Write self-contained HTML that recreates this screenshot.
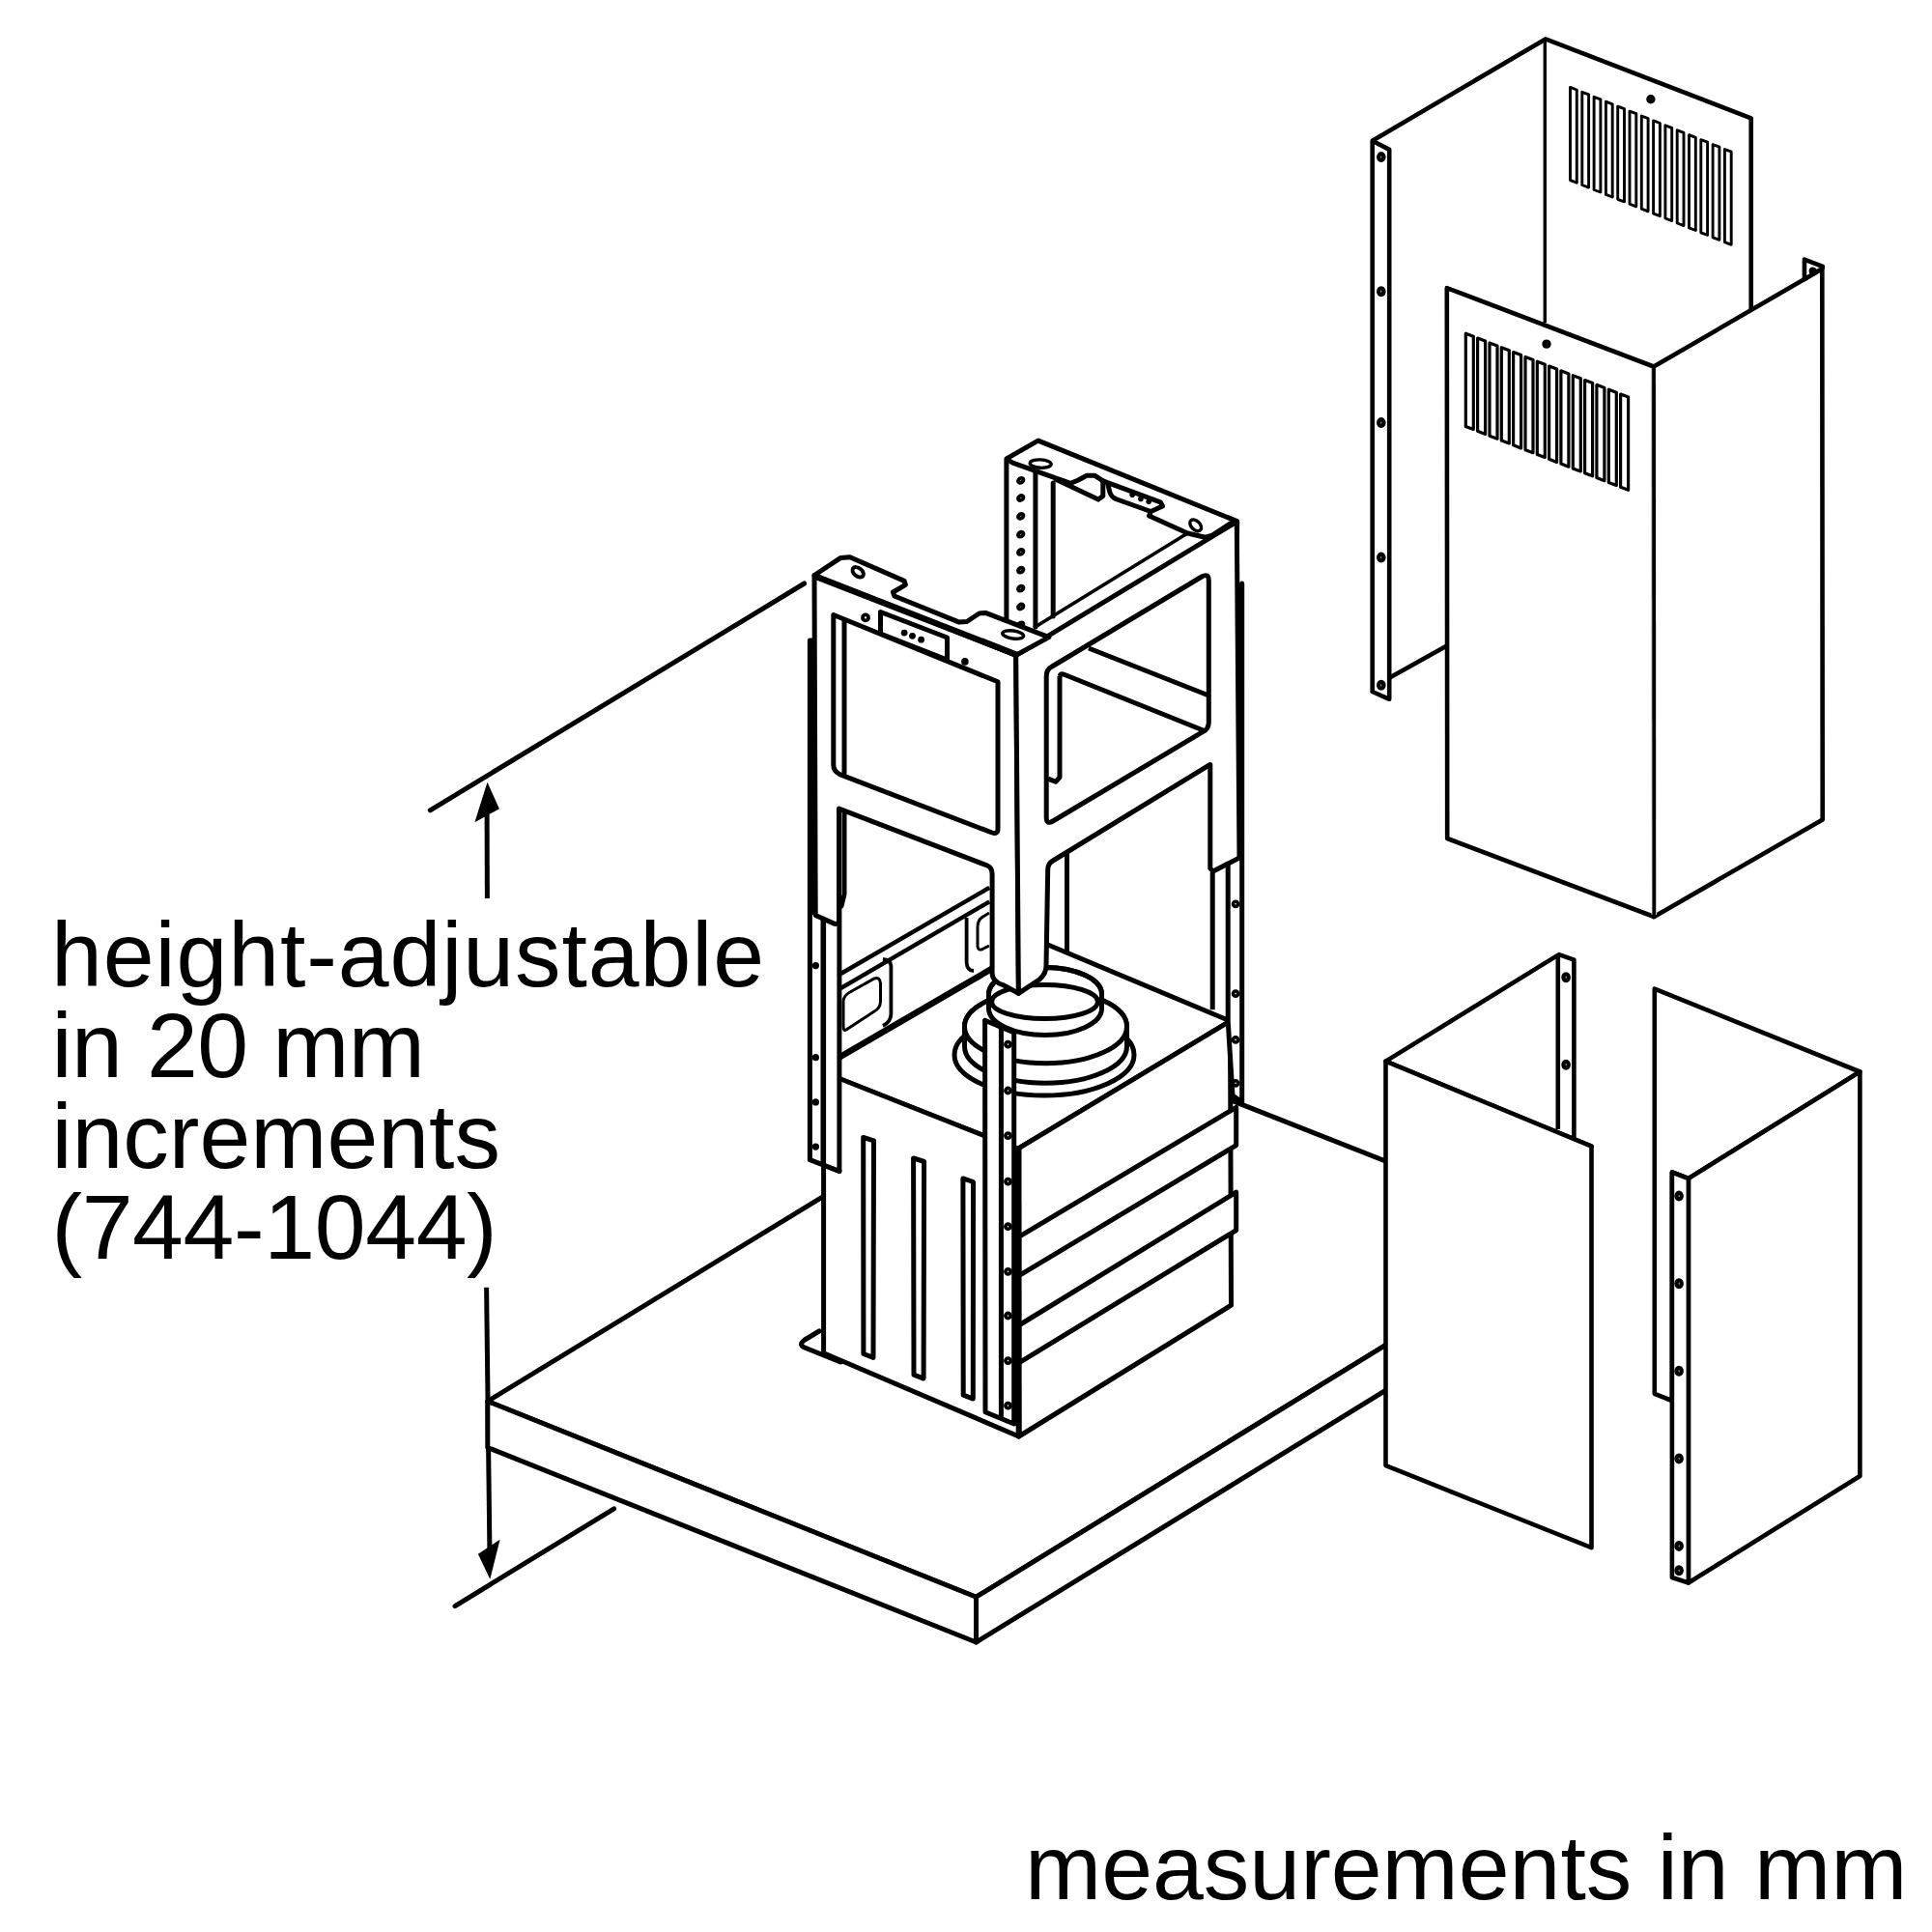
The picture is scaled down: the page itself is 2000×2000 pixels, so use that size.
<!DOCTYPE html>
<html><head><meta charset="utf-8"><style>
html,body{margin:0;padding:0;background:#fff;}
body{width:2000px;height:2000px;overflow:hidden;position:relative;}
svg{position:absolute;left:0;top:0;}
</style></head><body>
<svg width="2000" height="2000" viewBox="0 0 2000 2000">
<g font-family="Liberation Sans, sans-serif" font-size="95" fill="#000">
<text x="53" y="1021" letter-spacing="0.9">height-adjustable</text>
<text x="53.4" y="1115" letter-spacing="-0.6">in 20 mm</text>
<text x="53.4" y="1209">increments</text>
<text x="53.4" y="1303" letter-spacing="-0.38">(744-1044)</text>
<text x="1061" y="1966">measurements in mm</text>
</g>
<g fill="none" stroke="#000" stroke-width="5" stroke-linecap="round" stroke-linejoin="round">
<!-- dimension -->
<line x1="445.3" y1="838.8" x2="832.6" y2="604"/>
<line x1="504.1" y1="843" x2="504.4" y2="930" stroke-linecap="butt"/>
<line x1="503.6" y1="1332.8" x2="507" y2="1612" stroke-linecap="butt"/>
<line x1="471" y1="1662.6" x2="635.6" y2="1561.8"/>
</g>
<g fill="#000" stroke="none">
<polygon points="504.5,809.8 491.4,851.2 516.9,837.3"/>
<polygon points="507.3,1634.7 494.9,1608.8 517.6,1593.7"/>
</g>
<!-- PLATE -->
<g id="plate" fill="#fff" stroke="#000" stroke-width="5" stroke-linejoin="round">
<polygon points="504.8,1450.6 1117,1077 1623,1276.4 1010.5,1653.2"/>
<polygon points="504.8,1450.6 1010.5,1653.2 1010.5,1700 504.8,1498.5"/>
<polygon points="1010.5,1653.2 1623,1276.4 1623,1323.4 1010.5,1700"/>
</g>
<!-- BACK FRAME (behind box) -->
<g fill="none" stroke="#000" stroke-width="5" stroke-linejoin="round" stroke-linecap="round">
<polyline points="1041.9,650 1041.9,474.9 1074.7,456.1 1280.7,539.6 1279.9,600"/>
<line x1="1071.9" y1="487" x2="1071.9" y2="649"/>
<line x1="1090.2" y1="500" x2="1090.2" y2="638"/>
<polyline points="1042.5,475.5 1048.4,479.2 1108.3,500.3 1115.7,497.2 1125,492.2 1133.1,492.2 1141.8,497.8 1201.2,519.8 1203.5,524 1191.3,529.5 1189.6,534 1229.4,552 1247.6,556.2 1254.2,554.5 1274.1,541.7"/>
<polyline points="1141.8,497.8 1141.8,513.4 1136.9,517.1 1109.5,504 1093.4,496.6"/>
<path d="M1146.8,501 L1148.7,509 Q1150,514 1155,516.5 L1191.3,529.5"/>
</g>
<g fill="#000">
<circle cx="1172.2" cy="512.3" r="2.8"/><circle cx="1180.9" cy="516.4" r="2.8"/><circle cx="1189.2" cy="519.3" r="2.8"/>
</g>
<g fill="none" stroke="#000" stroke-width="3.4">
<ellipse cx="1237.7" cy="543.8" rx="7" ry="4.5" transform="rotate(45 1237.7 543.8)"/>
<ellipse cx="1077.2" cy="480.1" rx="11" ry="4.2" transform="rotate(3 1077.2 480.1)"/>
</g>
<g fill="#000">
<ellipse cx="1056.7" cy="497.3" rx="3" ry="2.2" fill="none" stroke="#000" stroke-width="3.8" transform="rotate(-35 1056.7 497.3)"/>
<ellipse cx="1056.7" cy="515.5" rx="3" ry="2.2" fill="none" stroke="#000" stroke-width="3.8" transform="rotate(-35 1056.7 515.5)"/>
<ellipse cx="1056.7" cy="534.3" rx="3" ry="2.2" fill="none" stroke="#000" stroke-width="3.8" transform="rotate(-35 1056.7 534.3)"/>
<ellipse cx="1056.7" cy="553.2" rx="3" ry="2.2" fill="none" stroke="#000" stroke-width="3.8" transform="rotate(-35 1056.7 553.2)"/>
<ellipse cx="1056.7" cy="571.4" rx="3" ry="2.2" fill="none" stroke="#000" stroke-width="3.8" transform="rotate(-35 1056.7 571.4)"/>
<ellipse cx="1056.7" cy="590.2" rx="3" ry="2.2" fill="none" stroke="#000" stroke-width="3.8" transform="rotate(-35 1056.7 590.2)"/>
<ellipse cx="1056.7" cy="609.1" rx="3" ry="2.2" fill="none" stroke="#000" stroke-width="3.8" transform="rotate(-35 1056.7 609.1)"/>
<ellipse cx="1056.7" cy="628" rx="3" ry="2.2" fill="none" stroke="#000" stroke-width="3.8" transform="rotate(-35 1056.7 628)"/>
<ellipse cx="1056.7" cy="646.8" rx="3" ry="2.2" fill="none" stroke="#000" stroke-width="3.8" transform="rotate(-35 1056.7 646.8)"/>
</g>
<!-- right flange inner line A -->
<line x1="1070.4" y1="649.8" x2="1229.4" y2="552" stroke="#000" stroke-width="3.6"/>
<!-- back crossbar seen through right upper window -->
<g fill="none" stroke="#000" stroke-width="5" stroke-linejoin="round">
<line x1="1127" y1="671" x2="1251.3" y2="720"/>
<path d="M1097,700 Q1098,697 1101,698 L1245.4,756"/>
<polyline points="1097,700 1097,804.6 1092.8,809.3 1085,806.1"/>
<line x1="1104.5" y1="880" x2="1104.5" y2="985.3"/>
</g>
<!-- back-left wall rim seen through left lower window -->
<g fill="none" stroke="#000" stroke-width="5" stroke-linejoin="round">
<line x1="870.4" y1="1008" x2="1024.3" y2="918.8" stroke-width="4.4"/>
<line x1="870.4" y1="1023" x2="1024.3" y2="933.4" stroke-width="4.4"/>
<path stroke-width="3.8" d="M914,993 Q922.4,994 922.4,1000 L922.4,1050 Q922,1058 914,1062"/>
<path stroke-width="3.8" d="M1000.6,950 L1000.6,996 Q1001,1005 1008,1005"/>
</g>
<g fill="none" stroke="#000" stroke-width="3">
<path d="M873,1036 Q874,1030 880,1027 L905,1013 Q911,1011 911.5,1018 L911.5,1037 Q911,1044 905,1047 L876,1066 Q873,1068 873,1062 Z"/>
<path d="M1024,945 L1016,950 Q1012,953 1012,960 L1012,980 Q1013,985 1018,982 L1024,979"/>
</g>
<!-- BOX -->
<g fill="#fff" stroke="#000" stroke-width="5" stroke-linejoin="round" stroke-linecap="round">
<polygon points="852.6,1104 1075.8,974.3 1273.5,1057 1053.5,1189.4 852.6,1110.7"/>
<polygon points="852.6,1110 1053.5,1189.4 1054.7,1487 852.6,1400.7"/>
<polygon points="1053.5,1189.4 1273.5,1057 1274.5,1351.2 1054.7,1487"/>
</g>
<g fill="none" stroke="#000" stroke-width="5" stroke-linejoin="round" stroke-linecap="round">
<path d="M848,1378 L833,1387 Q826,1392 833,1395 L870,1410"/>
<line x1="852.6" y1="1104" x2="1075.8" y2="974.3" stroke-width="6.5"/>
</g>
<g fill="#fff" stroke="#000" stroke-width="5" stroke-linejoin="round">
<polygon points="893.7,1177.4 904.5,1180.8 904,1405.4 893.9,1401.5"/>
<polygon points="945.6,1198.9 956.6,1202.5 956.1,1427.1 946,1423.2"/>
<polygon points="996.9,1219.9 1007.5,1223.5 1007.3,1448.1 997.2,1444.2"/>
<polygon points="1054.7,1280.4 1279.7,1146.3 1279.7,1185.6 1054.7,1320.7"/>
<polygon points="1054.7,1372 1279.7,1234.2 1279.7,1273.6 1054.7,1410.8"/>
</g>
<!-- DUCT -->
<g fill="#fff" stroke="#000" stroke-width="5">
<ellipse cx="1081" cy="1092" rx="93" ry="42"/>
<path d="M998.5,1062.7 A84 38 0 0 1 1166.5,1062.7 L1166.5,1083.2 A84 38 0 0 1 998.5,1083.2 Z"/>
<ellipse cx="1082.5" cy="1062.7" rx="84" ry="38"/>
<path d="M1023.5,1029 A58.5 27.5 0 0 1 1140.5,1029 L1140.5,1044 A58.5 27.5 0 0 1 1023.5,1044 Z"/>
<path fill="none" d="M1023.5,1029 A58.5 27.5 0 0 1 1140.5,1029"/>
<ellipse cx="1081.5" cy="1037" rx="55" ry="17.6"/>
</g>
<!-- LEFT RAIL (behind frame left leg) -->
<g fill="#fff" stroke="#000" stroke-width="5" stroke-linejoin="round">
<polygon points="838.4,663 852,663 852,1206 868.9,1212.4 838.4,1200.7"/>
<polygon points="852.6,940 868.9,934 868.9,1212.4 852.6,1206"/>
</g>
<g fill="#000">
<circle cx="844.4" cy="999.6" r="3.6"/><circle cx="844.4" cy="1094.7" r="3.6"/>
<circle cx="844.4" cy="1140.9" r="3.6"/><circle cx="844.4" cy="1187.1" r="3.6"/>
</g>
<!-- RIGHT RAIL -->
<g fill="#fff" stroke="#000" stroke-width="5" stroke-linejoin="round">
<polygon points="1271.2,896 1285.7,604 1285.7,1141 1276,1134 1271.2,1056.8"/>
</g>
<line x1="1255.2" y1="903" x2="1255.2" y2="1045.2" stroke="#000" stroke-width="5"/>
<g fill="none" stroke="#000" stroke-width="3.6">
<circle cx="1279.1" cy="935.8" r="2.6"/><circle cx="1279.1" cy="1028.6" r="2.6"/>
<circle cx="1279.1" cy="1076.4" r="2.6"/><circle cx="1279.1" cy="1121.3" r="2.6"/>
</g>
<line x1="841" y1="663" x2="841" y2="947" stroke="#000" stroke-width="8"/>
<line x1="1283.2" y1="604" x2="1283.2" y2="890" stroke="#000" stroke-width="8.5"/>
<!-- FRONT L FRAME -->
<g fill="#fff" stroke="#000" stroke-width="5" stroke-linejoin="round" fill-rule="evenodd">
<path d="M843,595.5 L1051.7,678.3 L1054.4,1028.3 L1038,1019.5 Q1027.5,1016 1027.1,1008 L1027.1,905 Q1027,898 1022,896 L868.5,837.1 L868.5,953 Q868,957 864,956.4 L844.2,947.5 Z
M862.8,636.5 L1033,705.8 L1033,858 Q1033,864 1027,862 L869.3,801.7 Q862.8,798 862.8,792 Z"/>
<path d="M1051.7,678.3 L1280.3,540.1 L1283,888 L1255.8,902 L1252.8,899 L1252.8,791.4 L1090,891 Q1084.7,894 1084.7,900 L1083,1000 Q1083,1008 1076,1014 L1054.4,1028.3 Z
M1083.2,700 Q1083.2,693 1089,690 L1244,597 Q1251.3,593 1251.3,601 L1251.3,748 Q1251,755 1245.4,757.4 L1090,850 Q1083.2,854 1083.2,846 Z"/>
<polygon points="843,595.5 870.4,577.4 879.9,576.7 936.1,601.4 937.4,605.3 924.5,613 925.8,617 993,644.1 1000.8,643.5 1013.7,635 1020.2,634.4 1085.9,659.6 1051.7,678.3"/>
<polygon points="911.5,633.5 980.5,660 980.5,683 911.5,656"/>
</g>
<g fill="none" stroke="#000" stroke-width="5" stroke-linecap="round">
<line x1="874" y1="643" x2="874" y2="800"/>
<line x1="845" y1="597" x2="1051.7" y2="677.5" stroke-width="6.5"/>
<polyline points="874,840 874,926 871,938"/>

</g>
<g fill="#000">
<circle cx="936.1" cy="655.1" r="3.4"/><circle cx="944.5" cy="658.3" r="3.4"/><circle cx="953.6" cy="662.2" r="3.4"/>
<circle cx="998.9" cy="684.9" r="3.8"/>
</g>
<g fill="none" stroke="#000" stroke-width="3.4">
<ellipse cx="888.2" cy="592.3" rx="6.5" ry="4.2" stroke-width="4" transform="rotate(38 888.2 592.3)"/>
<circle cx="896" cy="639.4" r="3" stroke-width="3.8"/>
<ellipse cx="1048.7" cy="657" rx="11" ry="4" transform="rotate(8 1048.7 657)"/>
</g>
<!-- FRONT RAIL -->
<g fill="#fff" stroke="#000" stroke-width="5" stroke-linejoin="round">
<polygon points="1019.6,1056.3 1049.7,1069 1049.7,1474 1020,1461.8"/>
</g>
<g fill="none" stroke="#000" stroke-width="5">
<line x1="1036.4" y1="1063" x2="1036.4" y2="1466.7"/>
<line x1="1054.5" y1="1189.4" x2="1054.7" y2="1487" stroke-width="6"/>
</g>
<g fill="none" stroke="#000" stroke-width="3.6">
<circle cx="1043.5" cy="1081.1" r="2.6"/><circle cx="1043.5" cy="1129" r="2.6"/><circle cx="1043.5" cy="1175.6" r="2.6"/>
<circle cx="1043.5" cy="1223.1" r="2.6"/><circle cx="1043.5" cy="1269.7" r="2.6"/><circle cx="1043.5" cy="1316.3" r="2.6"/>
<circle cx="1043.5" cy="1362" r="2.6"/><circle cx="1043.5" cy="1408.6" r="2.6"/><circle cx="1043.5" cy="1455.1" r="2.6"/>
</g>
<g fill="#fff" stroke="#000" stroke-width="4.6" stroke-linejoin="round">
<polygon stroke="none" points="1420.7,145.8 1599.9,40.4 1812.7,122.4 1812.7,320 1599.3,334 1497.8,667.7 1438.2,700.3 1438.2,723.8 1420.7,716"/>
<polyline fill="none" points="1420.7,145.8 1599.9,40.4 1812.7,122.4 1812.7,320"/>
</g>
<g fill="none" stroke="#000" stroke-width="4.6" stroke-linejoin="round" stroke-linecap="round">
<polyline points="1420.7,716 1420.7,145.8 1438.2,154.9 1438.2,723.8 1420.7,716"/>
<line x1="1438.2" y1="701.8" x2="1497.8" y2="668.5"/>
</g>
<line x1="1599.3" y1="41" x2="1599.3" y2="334" stroke="#000" stroke-width="3.4"/>
<g fill="none" stroke="#000" stroke-width="4.4">
<ellipse cx="1429.8" cy="162.6" rx="2.6" ry="3.3"/>
<ellipse cx="1429.8" cy="301.7" rx="2.6" ry="3.3"/>
<ellipse cx="1429.8" cy="437.6" rx="2.6" ry="3.3"/>
<ellipse cx="1429.8" cy="577.1" rx="2.6" ry="3.3"/>
<ellipse cx="1429.8" cy="709.3" rx="2.6" ry="3.3"/>
</g>
<g fill="none" stroke="#000" stroke-width="2.9" stroke-linejoin="round">
<polygon points="1625.5,90.4 1632.3,93.0 1632.3,189.2 1625.5,186.6"/>
<polygon points="1637.8,95.3 1644.6,97.9 1644.6,194.1 1637.8,191.5"/>
<polygon points="1650.1,100.3 1656.9,102.8 1656.9,199.0 1650.1,196.5"/>
<polygon points="1662.4,105.2 1669.2,107.8 1669.2,204.0 1662.4,201.4"/>
<polygon points="1674.7,110.1 1681.5,112.7 1681.5,208.9 1674.7,206.3"/>
<polygon points="1687.0,115.1 1693.8,117.6 1693.8,213.8 1687.0,211.2"/>
<polygon points="1699.3,120.0 1706.1,122.6 1706.1,218.8 1699.3,216.2"/>
<polygon points="1711.6,124.9 1718.4,127.5 1718.4,223.7 1711.6,221.1"/>
<polygon points="1723.9,129.8 1730.7,132.4 1730.7,228.6 1723.9,226.0"/>
<polygon points="1736.2,134.8 1743.0,137.4 1743.0,233.6 1736.2,231.0"/>
<polygon points="1748.5,139.7 1755.3,142.3 1755.3,238.5 1748.5,235.9"/>
<polygon points="1760.8,144.6 1767.6,147.2 1767.6,243.4 1760.8,240.8"/>
<polygon points="1773.1,149.6 1779.9,152.1 1779.9,248.3 1773.1,245.8"/>
<polygon points="1785.4,154.5 1792.2,157.1 1792.2,253.3 1785.4,250.7"/>
</g>
<circle cx="1708.9" cy="102.8" r="4.7" fill="#000"/>
<g fill="#fff" stroke="#000" stroke-width="4.6" stroke-linejoin="round">
<polygon points="1497.8,298.1 1711.9,379.5 1712.3,949 1498.2,868"/>
<polygon points="1711.9,379.5 1867.95,289.1 1886.3,278 1886.7,848.5 1712.3,949"/>
<polygon points="1867.95,268.6 1886.9,275.8 1886.3,278 1867.95,289.1"/>
</g>
<g fill="none" stroke="#000" stroke-width="3.2" stroke-linejoin="round">
<polygon points="1517.3,345.2 1525.3,348.2 1525.3,444.5 1517.3,441.5"/>
<polygon points="1529.6,350.0 1537.6,353.1 1537.6,449.4 1529.6,446.3"/>
<polygon points="1542.0,354.9 1550.0,357.9 1550.0,454.2 1542.0,451.2"/>
<polygon points="1554.3,359.7 1562.3,362.7 1562.3,459.0 1554.3,456.0"/>
<polygon points="1566.6,364.5 1574.6,367.6 1574.6,463.9 1566.6,460.8"/>
<polygon points="1579.0,369.4 1587.0,372.4 1587.0,468.7 1579.0,465.7"/>
<polygon points="1591.3,374.2 1599.3,377.2 1599.3,473.5 1591.3,470.5"/>
<polygon points="1603.6,379.0 1611.6,382.1 1611.6,478.4 1603.6,475.3"/>
<polygon points="1615.9,383.8 1623.9,386.9 1623.9,483.2 1615.9,480.1"/>
<polygon points="1628.3,388.7 1636.3,391.7 1636.3,488.0 1628.3,485.0"/>
<polygon points="1640.6,393.5 1648.6,396.5 1648.6,492.8 1640.6,489.8"/>
<polygon points="1652.9,398.3 1660.9,401.4 1660.9,497.7 1652.9,494.6"/>
<polygon points="1665.3,403.2 1673.3,406.2 1673.3,502.5 1665.3,499.5"/>
<polygon points="1677.6,408.0 1685.6,411.0 1685.6,507.3 1677.6,504.3"/>
</g>
<circle cx="1601" cy="356.1" r="4.7" fill="#000"/>
<circle cx="1876.6" cy="280.4" r="4" fill="#000"/>
<line x1="1712" y1="381" x2="1712.3" y2="947" stroke="#fff" stroke-width="5.2"/>
<line x1="1712" y1="381" x2="1712.3" y2="949" stroke="#000" stroke-width="3.8"/>
<g fill="#fff" stroke="#000" stroke-width="4.6" stroke-linejoin="round">
<polygon points="1434.5,1098.6 1613.8,988.1 1629.4,993.6 1629.4,1180 1647.5,1186.7"/>
<polygon points="1434.5,1098.6 1647.5,1186.7 1647.5,1602.2 1434.5,1517.1"/>
</g>
<g fill="none" stroke="#000" stroke-width="4.6" stroke-linejoin="round">
<polyline points="1612.8,1169 1612.8,988.5"/>
</g>
<g fill="none" stroke="#000" stroke-width="4.4">
<ellipse cx="1621.1" cy="1011.7" rx="2.6" ry="3.3"/>
<ellipse cx="1621.1" cy="1102.2" rx="2.6" ry="3.3"/>
</g>
<g fill="#fff" stroke="#000" stroke-width="4.6" stroke-linejoin="round">
<polygon points="1712.8,1023.6 1925.4,1109.5 1747.9,1220 1730.9,1213.5 1730.9,1450 1712.8,1442.8"/>
<polygon points="1747.9,1220 1925.4,1109.5 1925.4,1528 1747.9,1638.5"/>
<polygon points="1730.9,1213.5 1747.9,1220 1747.9,1638.5 1730.9,1633"/>
</g>
<g fill="none" stroke="#000" stroke-width="4.4">
<ellipse cx="1738.1" cy="1238.1" rx="2.6" ry="3.3"/>
<ellipse cx="1738.1" cy="1328.7" rx="2.6" ry="3.3"/>
<ellipse cx="1738.1" cy="1419.3" rx="2.6" ry="3.3"/>
<ellipse cx="1738.1" cy="1509.9" rx="2.6" ry="3.3"/>
<ellipse cx="1738.1" cy="1600.4" rx="2.6" ry="3.3"/>
<ellipse cx="1738.1" cy="1625.8" rx="2.6" ry="3.3"/>
</g>
</svg>
</body></html>
